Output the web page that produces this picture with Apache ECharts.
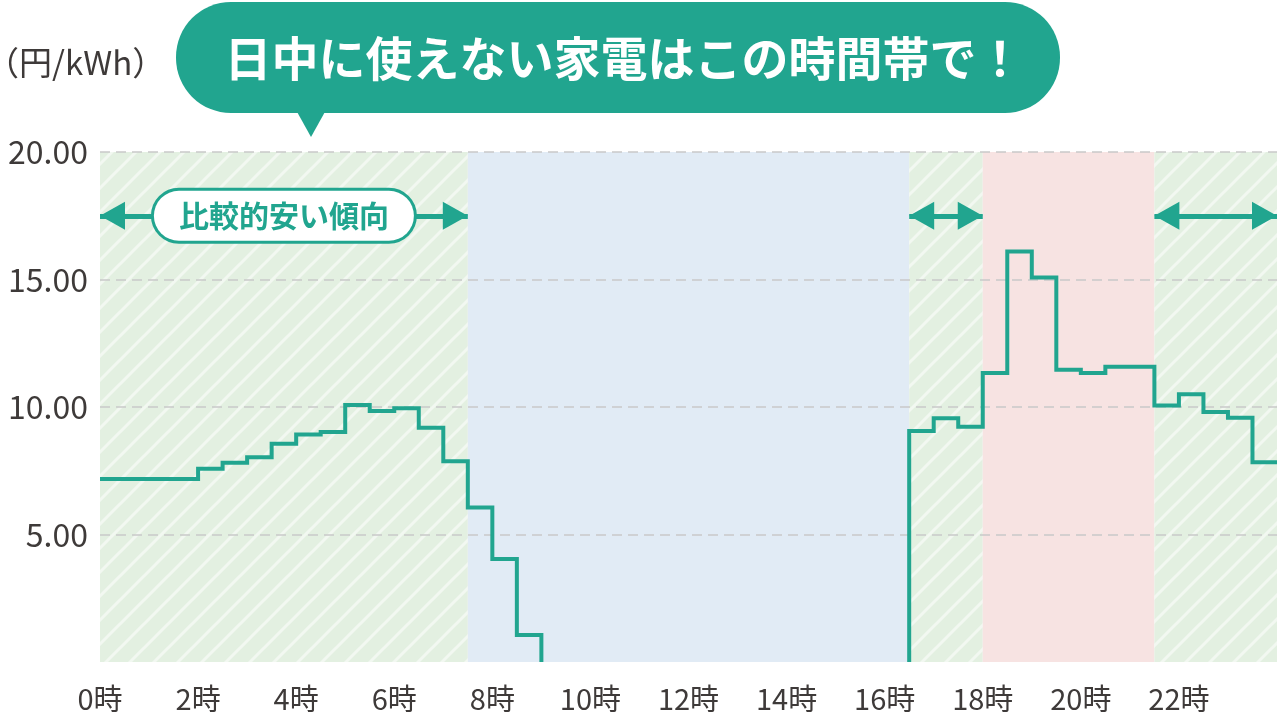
<!DOCTYPE html>
<html><head><meta charset="utf-8">
<script src="https://cdn.jsdelivr.net/npm/echarts@6/dist/echarts.min.js"></script>
<style>html,body{margin:0;padding:0;background:#fff}#c{width:1280px;height:718px}</style>
</head><body><div id="c"></div>
<script>
// ---- data ----
const hours = [0,0.5,1,1.5,2,2.5,3,3.5,4,4.5,5,5.5,6,6.5,7,7.5,8,8.5,9,9.5,10,10.5,11,11.5,
  12,12.5,13,13.5,14,14.5,15,15.5,16,16.5,17,17.5,18,18.5,19,19.5,20,20.5,21,21.5,22,22.5,23,23.5];
const dayEnd = 24;
const prices = [7.18,7.18,7.18,7.18,7.58,7.81,8.03,8.56,8.92,9.02,10.08,9.84,9.95,9.19,7.87,6.06,4.04,1.06,
  0,0,0,0,0,0,0,0,0,0,0,0,0,0,0,
  9.06,9.56,9.23,11.33,16.1,15.08,11.46,11.33,11.58,11.58,10.06,10.5,9.8,9.58,7.83];
const xTickLabels = ['0時','2時','4時','6時','8時','10時','12時','14時','16時','18時','20時','22時'];
const yTickLabels = ['', '5.00', '10.00', '15.00', '20.00'];
const bandEdges = [0, 7.5, 16.5, 18, 21.5, 24];
const bandKinds = ['cheap', 'day', 'cheap', 'peak', 'cheap'];
const cheapLabel = '比較的安い傾向';
const unitLabel = '（円/kWh）';
const headline = '日中に使えない家電はこの時間帯で！';

// ---- style ----
const TEAL = '#21a58f';
const TXT = '#3e3a39';
const FONT = '"Noto Sans CJK JP","Noto Sans",sans-serif';

function hatchPattern() {
  const s = 24, c = document.createElement('canvas');
  c.width = s; c.height = s;
  const g = c.getContext('2d');
  g.fillStyle = '#e3f0e1'; g.fillRect(0, 0, s, s);
  g.strokeStyle = 'rgba(255,255,255,0.55)'; g.lineWidth = 3;
  g.beginPath();
  for (const k of [0, s, 2 * s]) { g.moveTo(k + 4, -4); g.lineTo(-4, k + 4); }
  g.stroke();
  return { image: c, repeat: 'repeat' };
}
const bandColor = { cheap: hatchPattern(), day: '#e1ebf5', peak: '#f7e3e2' };

// build step line data (floor-level runs are not drawn)
const lineData = [];
for (let i = 0; i < prices.length; i++) {
  const v = prices[i], prev = i > 0 ? prices[i - 1] : null, t = hours[i];
  if (v === 0) {
    if (prev !== 0) { lineData.push([t, 0]); lineData.push([t, null]); }
    else lineData.push([t, null]);
  } else {
    if (prev === 0) lineData.push([t, 0]);
    lineData.push([t, v]);
  }
}
lineData.push([dayEnd, prices[prices.length - 1]]);

const areas = bandKinds.map((k, i) => [
  { xAxis: bandEdges[i], itemStyle: { color: bandColor[k] } },
  { xAxis: bandEdges[i + 1] }
]);
const arrowLevel = 17.5;
const arrows = bandKinds.map((k, i) => k === 'cheap' ? [
  { coord: [bandEdges[i], arrowLevel] }, { coord: [bandEdges[i + 1], arrowLevel] }
] : null).filter(Boolean);

const chart = echarts.init(document.getElementById('c'));
chart.setOption({
  animation: false,
  backgroundColor: '#fff',
  textStyle: { fontFamily: FONT },
  grid: { left: 100, right: 0, top: 152, bottom: 56, containLabel: false },
  xAxis: {
    type: 'value', min: 0, max: 24, interval: 2,
    axisLine: { show: false }, axisTick: { show: false }, splitLine: { show: false },
    axisLabel: {
      fontSize: 29, color: TXT, margin: 22, fontFamily: FONT,
      showMinLabel: true, showMaxLabel: true,
      formatter: (v, idx) => xTickLabels[idx] || ''
    }
  },
  yAxis: {
    type: 'value', min: 0, max: 20, interval: 5, z: 2,
    axisLine: { show: false }, axisTick: { show: false },
    splitLine: { show: true, showMinLine: false, lineStyle: { color: '#c9c9c9', width: 1.5, type: [10, 6] } },
    axisLabel: {
      fontSize: 32, color: TXT, margin: 12, fontFamily: FONT,
      formatter: (v, idx) => yTickLabels[idx] || ''
    }
  },
  series: [{
    type: 'line', step: 'end', z: 3, showSymbol: false, symbol: 'none',
    data: lineData, connectNulls: false,
    lineStyle: { color: TEAL, width: 4, join: 'miter' },
    itemStyle: { color: TEAL },
    markArea: { silent: true, z: 1, data: areas },
    markLine: {
      silent: true, z: 5, symbol: ['triangle', 'triangle'], symbolSize: [28, 25],
      symbolOffset: [[0, 12.5], [0, 12.5]],
      lineStyle: { color: TEAL, width: 5, type: 'solid' },
      itemStyle: { color: TEAL },
      label: { show: false },
      data: arrows
    },
    markPoint: {
      silent: true, z: 6, symbol: 'circle', symbolSize: 2,
      itemStyle: { color: 'rgba(0,0,0,0)' },
      data: [{ coord: [(bandEdges[0] + bandEdges[1]) / 2, arrowLevel] }],
      label: {
        show: true, position: 'inside', formatter: cheapLabel,
        color: TEAL, fontSize: 30, fontWeight: 'bold', fontFamily: FONT,
        backgroundColor: '#fff', borderColor: TEAL, borderWidth: 3, borderRadius: 28,
        padding: [10, 25]
      }
    }
  }],
  graphic: [
    { type: 'text', x: -14, y: 62, style: { text: unitLabel, fill: TXT, font: '33px ' + FONT, textVerticalAlign: 'middle' } },
    { type: 'rect', shape: { x: 176, y: 2, width: 884, height: 111, r: 55 }, style: { fill: TEAL } },
    { type: 'polygon', shape: { points: [[296, 110], [326, 110], [311, 137]] }, style: { fill: TEAL } },
    { type: 'text', x: 624, y: 58, style: { text: headline, fill: '#fff', font: 'bold 47px ' + FONT, textAlign: 'center', textVerticalAlign: 'middle' } }
  ]
});
</script></body></html>
